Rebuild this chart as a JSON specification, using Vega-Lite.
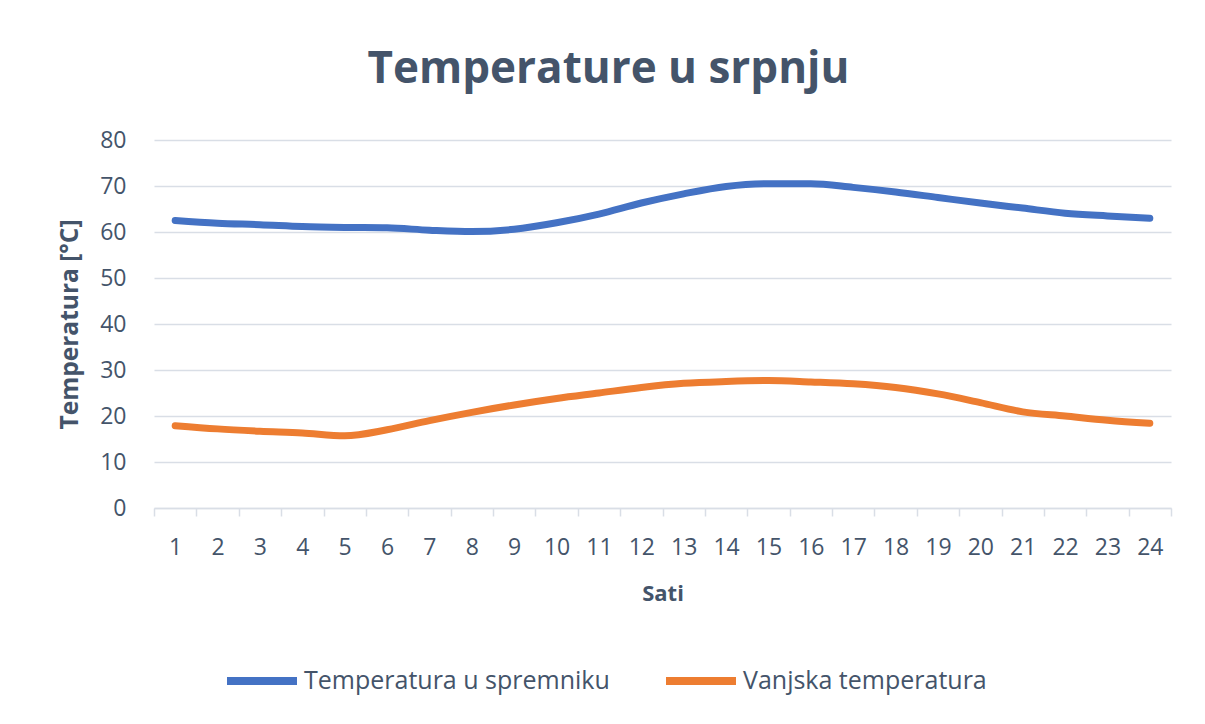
{
  "$schema": "https://vega.github.io/schema/vega-lite/v6.json",
  "autosize": {"type": "none"},
  "padding": {"left": 154, "top": 140, "right": 34, "bottom": 216},
  "width": 1017,
  "height": 368,
  "background": "white",
  "title": {
    "text": "Temperature u srpnju",
    "anchor": "middle",
    "frame": "group",
    "dx": -54,
    "offset": 37,
    "font": "Open Sans",
    "fontSize": 44,
    "fontWeight": "bold",
    "color": "#44546A"
  },
  "data": {
    "values": [
      {"sat": 1, "serija": "Temperatura u spremniku", "temp": 62.5},
      {"sat": 2, "serija": "Temperatura u spremniku", "temp": 61.9},
      {"sat": 3, "serija": "Temperatura u spremniku", "temp": 61.6},
      {"sat": 4, "serija": "Temperatura u spremniku", "temp": 61.2},
      {"sat": 5, "serija": "Temperatura u spremniku", "temp": 61.0},
      {"sat": 6, "serija": "Temperatura u spremniku", "temp": 60.9},
      {"sat": 7, "serija": "Temperatura u spremniku", "temp": 60.4},
      {"sat": 8, "serija": "Temperatura u spremniku", "temp": 60.1},
      {"sat": 9, "serija": "Temperatura u spremniku", "temp": 60.6},
      {"sat": 10, "serija": "Temperatura u spremniku", "temp": 62.0},
      {"sat": 11, "serija": "Temperatura u spremniku", "temp": 63.9},
      {"sat": 12, "serija": "Temperatura u spremniku", "temp": 66.3},
      {"sat": 13, "serija": "Temperatura u spremniku", "temp": 68.3},
      {"sat": 14, "serija": "Temperatura u spremniku", "temp": 69.9},
      {"sat": 15, "serija": "Temperatura u spremniku", "temp": 70.5},
      {"sat": 16, "serija": "Temperatura u spremniku", "temp": 70.5},
      {"sat": 17, "serija": "Temperatura u spremniku", "temp": 69.7},
      {"sat": 18, "serija": "Temperatura u spremniku", "temp": 68.7},
      {"sat": 19, "serija": "Temperatura u spremniku", "temp": 67.5},
      {"sat": 20, "serija": "Temperatura u spremniku", "temp": 66.3},
      {"sat": 21, "serija": "Temperatura u spremniku", "temp": 65.2},
      {"sat": 22, "serija": "Temperatura u spremniku", "temp": 64.1},
      {"sat": 23, "serija": "Temperatura u spremniku", "temp": 63.5},
      {"sat": 24, "serija": "Temperatura u spremniku", "temp": 63.0},
      {"sat": 1, "serija": "Vanjska temperatura", "temp": 17.9},
      {"sat": 2, "serija": "Vanjska temperatura", "temp": 17.2},
      {"sat": 3, "serija": "Vanjska temperatura", "temp": 16.7},
      {"sat": 4, "serija": "Vanjska temperatura", "temp": 16.3},
      {"sat": 5, "serija": "Vanjska temperatura", "temp": 15.7},
      {"sat": 6, "serija": "Vanjska temperatura", "temp": 17.0},
      {"sat": 7, "serija": "Vanjska temperatura", "temp": 19.0},
      {"sat": 8, "serija": "Vanjska temperatura", "temp": 20.8},
      {"sat": 9, "serija": "Vanjska temperatura", "temp": 22.4},
      {"sat": 10, "serija": "Vanjska temperatura", "temp": 23.8},
      {"sat": 11, "serija": "Vanjska temperatura", "temp": 25.0},
      {"sat": 12, "serija": "Vanjska temperatura", "temp": 26.2},
      {"sat": 13, "serija": "Vanjska temperatura", "temp": 27.1},
      {"sat": 14, "serija": "Vanjska temperatura", "temp": 27.5},
      {"sat": 15, "serija": "Vanjska temperatura", "temp": 27.7},
      {"sat": 16, "serija": "Vanjska temperatura", "temp": 27.4},
      {"sat": 17, "serija": "Vanjska temperatura", "temp": 27.0},
      {"sat": 18, "serija": "Vanjska temperatura", "temp": 26.2},
      {"sat": 19, "serija": "Vanjska temperatura", "temp": 24.8},
      {"sat": 20, "serija": "Vanjska temperatura", "temp": 22.9},
      {"sat": 21, "serija": "Vanjska temperatura", "temp": 20.9},
      {"sat": 22, "serija": "Vanjska temperatura", "temp": 20.0},
      {"sat": 23, "serija": "Vanjska temperatura", "temp": 19.1},
      {"sat": 24, "serija": "Vanjska temperatura", "temp": 18.4}
    ]
  },
  "mark": {"type": "line", "strokeWidth": 7, "strokeCap": "round", "strokeJoin": "round", "interpolate": "monotone"},
  "encoding": {
    "x": {
      "field": "sat",
      "type": "ordinal",
      "bandPosition": 0.5,
      "scale": {"type": "band", "paddingInner": 0, "paddingOuter": 0},
      "axis": {
        "title": "Sati",
        "labelAngle": 0,
        "tickBand": "extent",
        "domainColor": "#D9DEE6",
        "domainWidth": 1.5,
        "tickColor": "#D9DEE6",
        "tickWidth": 1.5,
        "tickSize": 8,
        "labelPadding": 20,
        "titlePadding": 24,
        "grid": false
      }
    },
    "y": {
      "field": "temp",
      "type": "quantitative",
      "scale": {"domain": [0, 80], "nice": false},
      "axis": {
        "title": "Temperatura [°C]",
        "titleFontSize": 24.5,
        "values": [0, 10, 20, 30, 40, 50, 60, 70, 80],
        "domain": false,
        "ticks": false,
        "grid": true,
        "gridColor": "#D9DEE6",
        "gridWidth": 1.5,
        "labelPadding": 28,
        "titlePadding": 17
      }
    },
    "color": {
      "field": "serija",
      "type": "nominal",
      "scale": {"domain": ["Temperatura u spremniku", "Vanjska temperatura"], "range": ["#4472C4", "#ED7D31"]},
      "legend": {
        "title": null,
        "orient": "none",
        "legendX": 69,
        "legendY": 502,
        "direction": "horizontal",
        "symbolType": "stroke",
        "symbolSize": 4900,
        "symbolStrokeWidth": 8,
        "labelOffset": 3,
        "columnPadding": 40,
        "labelFontSize": 25,
        "labelFont": "Open Sans",
        "labelColor": "#44546A",
        "labelLimit": 0
      }
    }
  },
  "config": {
    "view": {"stroke": null},
    "axis": {
      "labelFont": "Open Sans",
      "labelFontSize": 23,
      "labelColor": "#44546A",
      "titleFont": "Open Sans",
      "titleFontSize": 22,
      "titleFontWeight": "bold",
      "titleColor": "#44546A"
    }
  }
}
